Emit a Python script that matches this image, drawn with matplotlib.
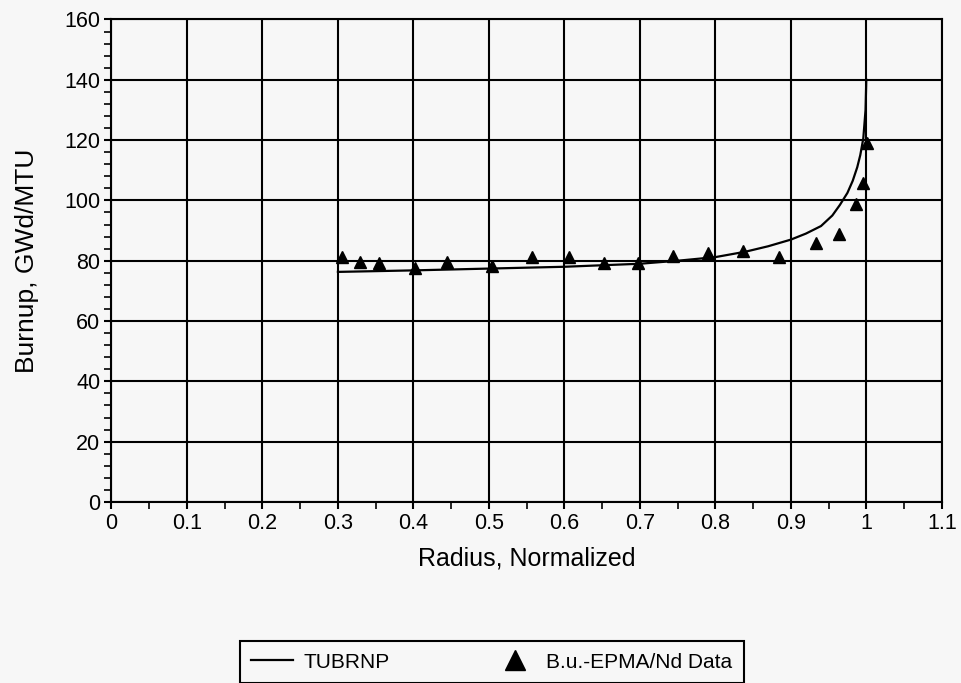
import matplotlib
matplotlib.use("Agg")
import matplotlib.pyplot as plt
from matplotlib.ticker import MultipleLocator, FixedLocator

plt.rcParams['font.family'] = ['Liberation Sans', 'DejaVu Sans']

# TUBRNP radial burnup profile
r_calc = [0.30, 0.40, 0.50, 0.60, 0.70, 0.75, 0.80, 0.84, 0.87, 0.90, 0.92,
          0.94, 0.955, 0.965, 0.975, 0.982, 0.988, 0.992, 0.996, 0.999, 1.0]
bu_calc = [76.3, 76.8, 77.4, 78.0, 79.0, 80.0, 81.2, 83.0, 84.8, 87.0, 89.0,
           91.5, 95.0, 98.5, 102.5, 106.5, 111.0, 115.0, 120.5, 130.0, 140.0]

# EPMA / Nd measured burnup
r_meas = [0.305, 0.329, 0.354, 0.402, 0.445, 0.504, 0.557, 0.606, 0.652, 0.698,
          0.744, 0.790, 0.837, 0.884, 0.934, 0.964, 0.986, 0.996, 1.001]
bu_meas = [81.3, 79.7, 79.3, 77.6, 79.6, 78.3, 81.3, 81.3, 79.3, 79.1,
           81.6, 82.7, 83.3, 81.3, 86.0, 88.8, 98.7, 105.9, 118.9]

x_ticks = [0, 0.1, 0.2, 0.3, 0.4, 0.5, 0.6, 0.7, 0.8, 0.9, 1.0, 1.1]
x_ticklabels = ['0', '0.1', '0.2', '0.3', '0.4', '0.5', '0.6', '0.7', '0.8',
                '0.9', '1', '1.1']
y_ticks = [0, 20, 40, 60, 80, 100, 120, 140, 160]

bg = '#f7f7f7'
fig = plt.figure(figsize=(9.61, 6.83), dpi=100, facecolor=bg)
ax = fig.add_axes([0.116, 0.265, 0.864, 0.7065], facecolor=bg)

ax.plot(r_calc, bu_calc, color='black', lw=1.6, label='TUBRNP', zorder=3)
ax.plot(r_meas, bu_meas, ls='none', marker='^', ms=9, color='black',
        label='B.u.-EPMA/Nd Data', zorder=4)

ax.set_xlim(0, 1.1)
ax.set_ylim(0, 160)
ax.xaxis.set_major_locator(FixedLocator(x_ticks))
ax.set_xticklabels(x_ticklabels)
ax.xaxis.set_minor_locator(MultipleLocator(0.05))
ax.yaxis.set_major_locator(FixedLocator(y_ticks))
ax.yaxis.set_minor_locator(MultipleLocator(4))

ax.grid(True, which='major', color='black', lw=1.5)
for s in ax.spines.values():
    s.set_linewidth(1.5)
    s.set_color('black')

ax.tick_params(which='major', direction='out', length=5, width=1.5,
               labelsize=15.5, pad=3)
ax.tick_params(which='minor', direction='out', length=5, width=1.2)

ax.set_xlabel('Radius, Normalized', fontsize=18, labelpad=9)
ax.set_ylabel('Burnup, GWd/MTU', fontsize=19, labelpad=18.5)

leg = fig.legend(loc='lower left', bbox_to_anchor=(240 / 961, 0.0),
                 ncol=2, fontsize=15, frameon=True, fancybox=False,
                 edgecolor='black', facecolor=bg, framealpha=1,
                 handlelength=2.0, handletextpad=0.5, columnspacing=5.0,
                 borderpad=0.55, borderaxespad=0, markerscale=1.6)
leg.get_frame().set_linewidth(1.5)

fig.savefig('out.png', dpi=100, facecolor=bg)
